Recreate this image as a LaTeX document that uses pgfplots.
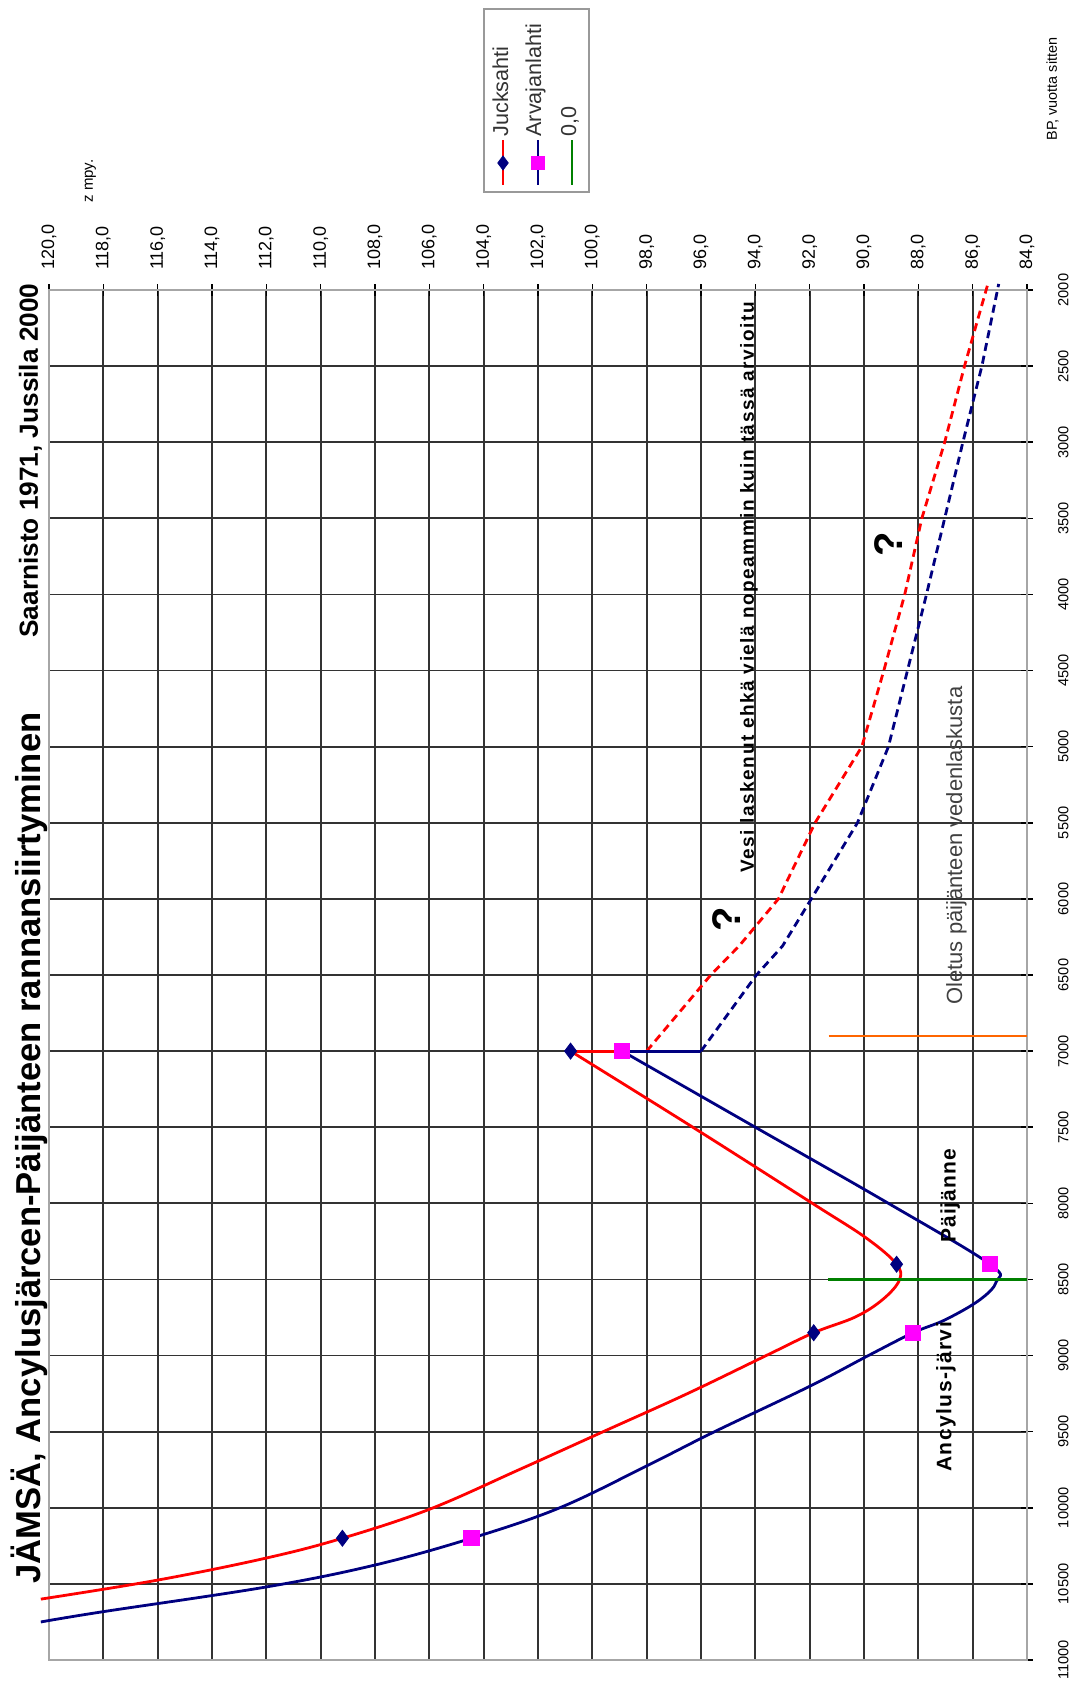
\documentclass[border=0pt]{standalone}
\usepackage{fontspec}
\setmainfont{Liberation Sans}
\usepackage{pgfplots}
\pgfplotsset{compat=1.18}

\definecolor{navy}{RGB}{0,0,128}
\definecolor{jred}{RGB}{255,0,0}
\definecolor{amag}{RGB}{255,0,255}
\definecolor{zgreen}{RGB}{0,128,0}
\definecolor{oorange}{RGB}{255,102,0}

\begin{document}
\begin{tikzpicture}
\begin{axis}[
  scale only axis, width=489pt, height=685pt,
  x dir=reverse, y dir=reverse,
  xmin=84, xmax=120, ymin=2000, ymax=11000,
  xtick={84,86,...,120}, ytick={2000,2500,...,11000},
  scaled x ticks=false, scaled y ticks=false,
  xtick pos=right, ytick pos=right,
  xticklabel pos=right, yticklabel pos=right,
  tick align=center, major tick length=6pt,
  tick style={black, line width=0.8pt},
  grid=major, major grid style={draw=black!80, line width=0.9pt},
  axis line style={gray!70, line width=1.2pt},
  xticklabel shift=3.5pt, yticklabel shift=9pt,
  x tick label style={rotate=90, anchor=west, font=\fontsize{9}{10}\selectfont,
    /pgf/number format/.cd, fixed, fixed zerofill, precision=1, use comma, assume math mode=true},
  y tick label style={rotate=90, anchor=north, font=\fontsize{7.3}{9}\selectfont,
    /pgf/number format/.cd, 1000 sep={}, assume math mode=true},
  clip=false,
]
% Jucksahti, measured curve (z, BP)
\addplot[jred, line width=1.4pt, smooth, tension=0.6] coordinates {
 (120.3,10600) (116.0,10475) (112.0,10330) (109.2,10200) (106.0,10010)
 (102.7,9750) (99.6,9500) (96.5,9250) (93.6,9000) (91.85,8850)
 (90.3,8745) (89.3,8630) (88.7,8505) (88.8,8400) (89.9,8230)
 (91.9,8000) (96.3,7500) (100.8,7000)
};
\addplot[jred, line width=1.4pt] coordinates {(100.8,7000) (98.0,7000)};
\addplot[jred, line width=1.4pt, dash pattern=on 4pt off 2.5pt] coordinates {
 (98.0,7000) (95.64,6500) (94.6,6310) (93.15,6000) (91.8,5500) (90.08,5000)
 (89.27,4500) (88.5,4000) (87.87,3500) (87.03,3000) (86.3,2500) (85.44,1960)
};
% Arvajanlahti
\addplot[navy, line width=1.4pt, smooth, tension=0.6] coordinates {
 (120.3,10750) (118.1,10685) (112.0,10520) (108.0,10376) (104.45,10200)
 (101.2,10000) (98.0,9725) (95.5,9500) (92.0,9202) (89.84,9000)
 (88.19,8850) (87.0,8764) (85.74,8634) (85.13,8515) (85.36,8400)
 (89.1,8000) (94.0,7500) (98.9,7000)
};
\addplot[navy, line width=1.4pt] coordinates {(98.9,7000) (96.0,7000)};
\addplot[navy, line width=1.4pt, dash pattern=on 4pt off 2.5pt] coordinates {
 (96.0,7000) (93.96,6500) (93.0,6310) (91.94,6000) (90.24,5500) (89.1,5000)
 (88.4,4500) (87.7,4000) (87.03,3500) (86.36,3000) (85.66,2500) (85.04,1960)
};
% 0,0 and the orange line
\addplot[zgreen, line width=1.4pt] coordinates {(91.33,8500) (84.0,8500)};
\addplot[oorange, line width=1.4pt] coordinates {(91.3,6900) (84.0,6900)};
% markers
\addplot[only marks, mark=diamond*, mark size=4pt, mark options={draw=navy, fill=navy}] coordinates {
 (100.8,7000) (88.8,8400) (91.85,8850) (109.2,10200)
};
\addplot[only marks, mark=square*, mark size=3.8pt, mark options={draw=amag, fill=amag}] coordinates {
 (98.9,7000) (85.36,8400) (88.19,8850) (104.45,10200)
};

% texts
\node[rotate=90, anchor=base west, inner sep=0pt, font=\fontsize{17.3}{20}\selectfont\bfseries]
  at ([xshift=-4pt]axis cs:120,10500) {JÄMSÄ, Ancylusjärcen-Päijänteen rannansiirtyminen};
\node[rotate=90, anchor=base west, inner sep=0pt, font=\fontsize{13.1}{16}\selectfont\bfseries]
  at ([xshift=-5.5pt]axis cs:120,4286) {Saarnisto 1971, Jussila 2000};
\node[rotate=90, anchor=base west, inner sep=0pt, font=\fontsize{7.5}{9}\selectfont]
  at ([yshift=43.5pt]axis cs:118.38,2000) {z mpy.};
\node[rotate=90, anchor=base west, inner sep=0pt, font=\fontsize{7.2}{9}\selectfont]
  at ([xshift=15pt,yshift=74.5pt]axis cs:84,2000) {BP, vuotta sitten};
\node[rotate=90, anchor=base west, inner sep=0pt, font=\fontsize{9.5}{11}\selectfont\bfseries\addfontfeature{LetterSpace=8}]
  at (axis cs:94.05,5830) {Vesi laskenut ehkä vielä nopeammin kuin tässä arvioitu};
\node[rotate=90, inner sep=0pt, font=\fontsize{20}{24}\selectfont\bfseries] at (axis cs:95.07,6133) {?};
\node[rotate=90, inner sep=0pt, font=\fontsize{20}{24}\selectfont\bfseries] at (axis cs:89.1,3670) {?};
\node[rotate=90, anchor=base west, inner sep=0pt, text=black!75, font=\fontsize{11}{13}\selectfont]
  at (axis cs:86.39,6697) {Oletus päijänteen vedenlaskusta};
\node[rotate=90, anchor=base west, inner sep=0pt, font=\fontsize{10.5}{12}\selectfont\bfseries\addfontfeature{LetterSpace=5}]
  at (axis cs:86.63,8261) {Päijänne};
\node[rotate=90, anchor=base west, inner sep=0pt, font=\fontsize{10.5}{12}\selectfont\bfseries\addfontfeature{LetterSpace=7}]
  at (axis cs:86.78,9765) {Ancylus-järvi};

\coordinate (BL) at (axis cs:120,11000);
\coordinate (TR) at (axis cs:84,2000);
\coordinate (LEG) at ([xshift=217.5pt,yshift=49pt]axis cs:120,2000);
\end{axis}

% legend, turned like the chart: a small axis of its own
\begin{axis}[
  at={(LEG)}, anchor=south west,
  scale only axis, width=52.5pt, height=91.5pt,
  xmin=0, xmax=105, ymin=0, ymax=183,
  xtick=\empty, ytick=\empty,
  axis line style={gray!80, line width=0.8pt},
  axis background/.style={fill=white},
  clip=false,
]
\addplot[jred, line width=1.4pt] coordinates {(19,7) (19,52)};
\addplot[only marks, mark=diamond*, mark size=3.5pt, mark options={draw=navy, fill=navy}] coordinates {(19,29)};
\addplot[navy, line width=1.4pt] coordinates {(54,7) (54,52)};
\addplot[only marks, mark=square*, mark size=3.4pt, mark options={draw=amag, fill=amag}] coordinates {(54,29)};
\addplot[zgreen, line width=1.4pt] coordinates {(88,7) (88,52)};
\node[rotate=90, anchor=base west, inner sep=0pt, text=black!80, font=\fontsize{10.8}{12}\selectfont] at (axis cs:24,55) {Jucksahti};
\node[rotate=90, anchor=base west, inner sep=0pt, text=black!80, font=\fontsize{10.8}{12}\selectfont] at (axis cs:57,55) {Arvajanlahti};
\node[rotate=90, anchor=base west, inner sep=0pt, text=black!80, font=\fontsize{10.8}{12}\selectfont] at (axis cs:92,55) {0,0};
\end{axis}

\pgfresetboundingbox
\path ([shift={(-24.5pt,-18.5pt)}]BL) rectangle ([shift={(25pt,145pt)}]TR);
\end{tikzpicture}
\end{document}
